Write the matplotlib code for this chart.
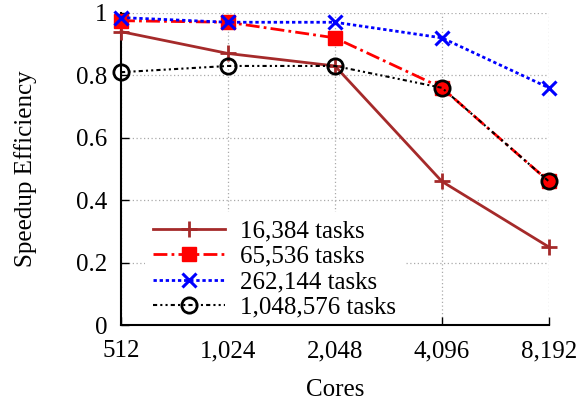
import matplotlib
matplotlib.use("Agg")
import matplotlib.pyplot as plt

cores = [512, 1024, 2048, 4096, 8192]
core_labels = ["512", "1,024", "2,048", "4,096", "8,192"]
series_names = ["16,384 tasks", "65,536 tasks", "262,144 tasks", "1,048,576 tasks"]
eff_16k = [0.94, 0.87, 0.83, 0.46, 0.25]
eff_65k = [0.975, 0.97, 0.92, 0.76, 0.46]
eff_262k = [0.985, 0.97, 0.97, 0.92, 0.76]
eff_1m = [0.81, 0.83, 0.83, 0.76, 0.46]

plt.rcParams['font.family'] = ['Liberation Serif', 'DejaVu Serif']
fig = plt.figure(figsize=(5.79, 4.03), dpi=100)
ax = fig.add_axes([0.209, 0.1935, 0.739, 0.7745])

ax.plot(cores, eff_16k, color='#a52a2a', lw=2, ls='-', marker='+', ms=12, mew=2,
        label=series_names[0], clip_on=False, zorder=3)
ax.plot(cores, eff_65k, color='red', lw=2, ls=(0, (5, 1.5, 1, 1.5)), marker='s', ms=10,
        label=series_names[1], clip_on=False, zorder=4)
ax.plot(cores, eff_262k, color='blue', lw=2, ls=(0, (1.2, 1)), marker='x', ms=10, mew=2.2,
        label=series_names[2], clip_on=False, zorder=5)
ax.plot(cores, eff_1m, color='black', lw=1.5, ls=(0, (2, 1.5, 1, 1.5, 1, 1.5)), marker='o', ms=11,
        mfc='none', mew=2, label=series_names[3], clip_on=False, zorder=6)

ax.set_xscale('log', base=2)
ax.set_xlim(512, 8192)
ax.set_ylim(0, 1)
ax.set_xticks(cores)
ax.set_xticklabels(core_labels)
ax.minorticks_off()
ax.set_yticks([0, 0.2, 0.4, 0.6, 0.8, 1.0])
ax.set_yticklabels(["0", "0.2", "0.4", "0.6", "0.8", "1"])
ax.tick_params(direction='in', length=6, width=1, labelsize=18, top=False, right=False)
ax.tick_params(axis='y', pad=10)
ax.tick_params(axis='x', pad=11)
ax.grid(True, color='#aaaaaa', ls=(0, (1, 2)), lw=0.9)
ax.set_axisbelow(True)
for s in ['top', 'right']:
    ax.spines[s].set_visible(False)
for s in ['left', 'bottom']:
    ax.spines[s].set_linewidth(1.5)

ax.set_xlabel("Cores", fontsize=18, labelpad=12)
ax.set_ylabel("Speedup Efficiency", fontsize=18, labelpad=28)

leg = ax.legend(loc='lower left', bbox_to_anchor=(0.045, -0.02), fontsize=18, frameon=True,
                handlelength=2.9, handletextpad=0.6, labelspacing=0.12, borderaxespad=0.2,
                borderpad=0.3)
leg.get_frame().set_edgecolor('none')
leg.get_frame().set_facecolor('white')
leg.get_frame().set_alpha(1)
leg.set_zorder(2.4)

fig.savefig("out.png", dpi=100)
